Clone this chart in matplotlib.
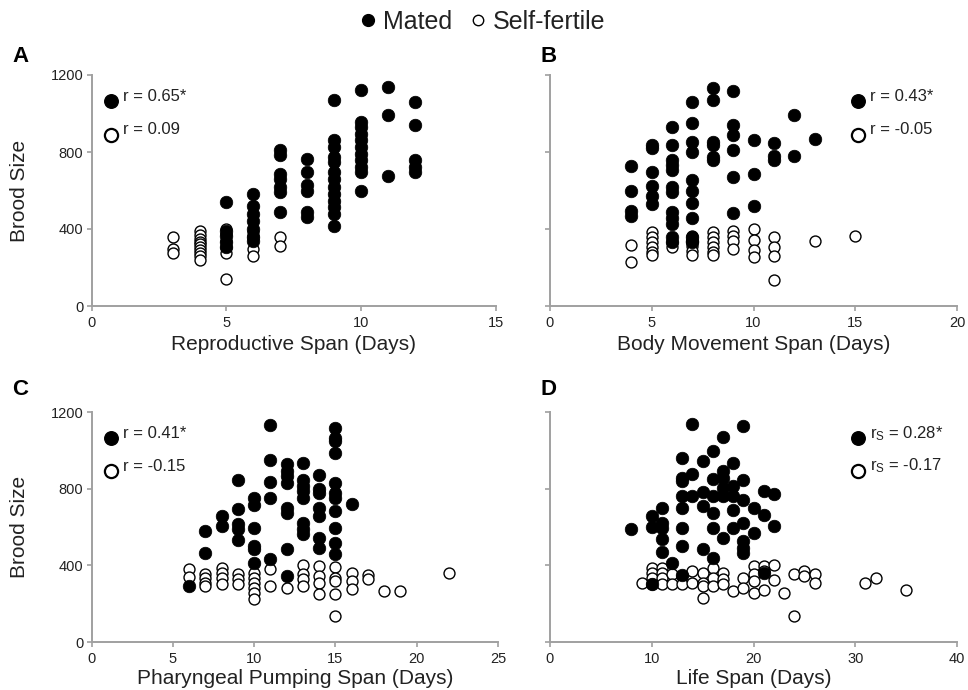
import matplotlib
matplotlib.use("Agg")
import matplotlib.pyplot as plt
from matplotlib.lines import Line2D

plt.rcParams['font.family'] = ['Liberation Sans', 'DejaVu Sans']
plt.rcParams['mathtext.fontset'] = 'custom'
plt.rcParams['mathtext.rm'] = 'Liberation Sans'
plt.rcParams['mathtext.it'] = 'Liberation Sans'

# ---------------- DATA ----------------
# Panel A: Reproductive span
a_mated_x = [5]*5 + [6]*7 + [7]*7 + [8]*6 + [9]*13 + [10]*11 + [11]*3 + [12]*5
a_mated_y = [539, 390, 365, 335, 305,
             583, 518, 478, 443, 400, 357, 339,
             812, 783, 687, 661, 617, 591, 487,
             762, 696, 626, 600, 487, 461,
             1070, 861, 826, 774, 748, 696, 661, 617, 583, 548, 513, 478, 417,
             1122, 957, 930, 896, 861, 826, 791, 757, 722, 696, 600,
             1136, 991, 673,
             1061, 939, 760, 722, 696]
a_self_x = [3]*3 + [4]*10 + [5]*6 + [6]*4 + [7]*2
a_self_y = [360, 296, 273,
            391, 370, 350, 335, 320, 305, 290, 275, 261, 240,
            400, 374, 339, 304, 273, 139,
            383, 365, 296, 261,
            360, 313]

# Panel B: Body movement span
b_mated_x = [4]*4 + [5]*6 + [6]*12 + [7]*11 + [8]*6 + [9]*6 + [10]*3 + [11]*3 + [12]*2 + [13]
b_mated_y = [725, 595, 496, 470,
             835, 820, 696, 621, 574, 530,
             930, 838, 757, 730, 704, 617, 591, 487, 455, 426, 357, 330,
             1061, 952, 852, 800, 657, 597, 536, 456, 357, 340, 330,
             1134, 1070, 852, 835, 774, 757,
             1118, 939, 887, 809, 670, 482,
             864, 687, 518,
             847, 779, 760,
             991, 779,
             870]
b_self_x = [4]*2 + [5]*6 + [6]*2 + [7]*5 + [8]*6 + [9]*4 + [10]*4 + [11]*4 + [13] + [15]
b_self_y = [317, 226,
            383, 357, 330, 304, 278, 264,
            330, 304,
            365, 339, 313, 287, 264,
            383, 357, 330, 304, 278, 264,
            391, 365, 339, 296,
            400, 344, 292, 252,
            357, 304, 261, 136,
            336,
            365]

# Panel C: Pharyngeal pumping span
c_mated_x = [6] + [7]*2 + [8]*2 + [9]*5 + [10]*6 + [11]*5 + [12]*8 + [13]*8 + [14]*7 + [15]*11 + [16]
c_mated_y = [292,
             579, 466,
             657, 605,
             845, 692, 614, 588, 530,
             750, 715, 593, 501, 483, 410,
             1132, 950, 837, 750, 431,
             927, 892, 866, 831, 701, 675, 483, 344,
             936, 845, 814, 788, 753, 623, 588, 562,
             871, 797, 779, 697, 657, 541, 492,
             1118, 1066, 1049, 984, 828, 779, 753, 683, 597, 515, 457,
             722]
c_self_x = ([6]*2 + [7]*4 + [8]*4 + [9]*3 + [10]*6 + [11]*2 + [12] + [13]*4 + [14]*4
            + [15]*5 + [16]*3 + [17]*2 + [18] + [19] + [22])
c_self_y = [383, 341,
            353, 336, 310, 292,
            388, 362, 336, 301,
            353, 327, 301,
            362, 336, 310, 283, 257, 223,
            383, 292,
            283,
            400, 353, 327, 292,
            397, 344, 310, 252,
            393, 336, 318, 249, 136,
            362, 318, 275,
            350, 327,
            266,
            266,
            362]

# Panel D: Life span
d_mated_x = ([8] + [10]*3 + [11]*5 + [12] + [13]*8 + [14]*3 + [15]*4 + [16]*6 + [17]*6
             + [18]*5 + [19]*7 + [20]*2 + [21]*3 + [22]*2)
d_mated_y = [588,
             657, 600, 301,
             701, 623, 597, 536, 471,
             414,
             958, 854, 840, 764, 701, 597, 501, 348,
             1139, 875, 760,
             944, 785, 707, 483,
             997, 850, 760, 675, 597, 440,
             1070, 892, 857, 805, 760, 545,
             936, 814, 760, 690, 597,
             1127, 847, 740, 623, 527, 492, 466,
             697, 567,
             786, 663, 362,
             774, 605]
d_self_x = ([9] + [10]*4 + [11]*4 + [12]*2 + [13]*2 + [14]*2 + [15]*4 + [16]*3 + [17]*3
            + [18] + [19]*2 + [20]*4 + [21]*3 + [22]*2 + [23] + [24]*2 + [25]*2 + [26]*2
            + [31] + [32] + [35])
d_self_y = [310,
            388, 362, 336, 301,
            388, 362, 336, 301,
            353, 301,
            344, 301,
            370, 310,
            362, 310, 292, 231,
            388, 336, 292,
            362, 327, 301,
            266,
            336, 283,
            397, 353, 318, 257,
            397, 370, 270,
            400, 322,
            257,
            357, 136,
            370, 344,
            353, 310,
            310,
            333,
            270]

x_labels = ["Reproductive Span (Days)", "Body Movement Span (Days)",
            "Pharyngeal Pumping Span (Days)", "Life Span (Days)"]
x_maxes = [15, 20, 25, 40]
x_steps = [5, 5, 5, 10]
y_ticks = [0, 400, 800, 1200]
panel_letters = ["A", "B", "C", "D"]
mated_r = ["r = 0.65*", "r = 0.43*", "r = 0.41*", r"r$_\mathrm{S}$ = 0.28*"]
self_r = ["r = 0.09", "r = -0.05", "r = -0.15", r"r$_\mathrm{S}$ = -0.17"]

# ---------------- FIGURE ----------------
W, H = 968, 690
fig = plt.figure(figsize=(W / 100, H / 100), dpi=100)

def px_axes(l, r, b, t):
    return fig.add_axes([l / W, 1 - b / H, (r - l) / W, (b - t) / H])

boxes = [(91.7, 496, 306, 75), (550, 957, 306, 75),
         (91.7, 498, 642, 412), (550, 957, 642, 412)]
data = [(a_mated_x, a_mated_y, a_self_x, a_self_y),
        (b_mated_x, b_mated_y, b_self_x, b_self_y),
        (c_mated_x, c_mated_y, c_self_x, c_self_y),
        (d_mated_x, d_mated_y, d_self_x, d_self_y)]

spine_col = '#a0a0a0'
txt_col = '#222222'

for i, (box, (mx, my, sx, sy)) in enumerate(zip(boxes, data)):
    ax = px_axes(*box)
    ax.scatter(sx, sy, s=62, facecolors='white', edgecolors='black', linewidths=1.0,
               zorder=2, clip_on=False)
    ax.scatter(mx, my, s=82, facecolors='black', edgecolors='black', linewidths=0.5,
               zorder=3, clip_on=False)
    ax.set_xlim(0, x_maxes[i])
    ax.set_ylim(0, 1200)
    ax.set_xticks(list(range(0, x_maxes[i] + 1, x_steps[i])))
    ax.set_yticks(y_ticks)
    for side in ['top', 'right']:
        ax.spines[side].set_visible(False)
    for side in ['left', 'bottom']:
        ax.spines[side].set_color(spine_col)
        ax.spines[side].set_linewidth(1.4)
    ax.tick_params(axis='both', colors=spine_col, width=1.2, length=3.5,
                   labelsize=10.5, labelcolor=txt_col, direction='out')
    ax.tick_params(axis='x', pad=4)
    ax.tick_params(axis='y', pad=2.5)
    if i in (1, 3):
        ax.set_yticklabels([])
    # x label
    off = 38 if i < 2 else 36
    ax.text(0.5, -off / (box[2] - box[3]), x_labels[i], transform=ax.transAxes,
            ha='center', va='center', fontsize=15, color=txt_col)
    # inner correlation legend
    mxp = 0.047 if i in (0, 2) else 0.757
    txp = mxp + 0.03
    ax.scatter([mxp], [0.888], s=95, facecolors='black', edgecolors='black',
               transform=ax.transAxes, clip_on=False, zorder=4)
    ax.scatter([mxp], [0.742], s=90, facecolors='white', edgecolors='black',
               linewidths=1.6, transform=ax.transAxes, clip_on=False, zorder=4)
    ax.text(txp, 0.905, mated_r[i], transform=ax.transAxes, ha='left', va='center',
            fontsize=12, color=txt_col)
    ax.text(txp, 0.765, self_r[i], transform=ax.transAxes, ha='left', va='center',
            fontsize=12, color=txt_col)

# y labels
for yc in [(75 + 306) / 2, (412 + 642) / 2]:
    fig.text(20 / W, 1 - yc / H, "Brood Size", rotation=90, ha='center', va='center',
             fontsize=15, color=txt_col)

# panel letters
for letter, (lx, ly) in zip(panel_letters, [(12, 57), (541, 57), (12, 390), (541, 390)]):
    fig.text(lx / W, 1 - ly / H, letter, fontsize=16, fontweight='bold',
             ha='left', va='center', color='black')

# top legend
handles = [Line2D([], [], marker='o', linestyle='none', markersize=8.5,
                  markerfacecolor='black', markeredgecolor='black'),
           Line2D([], [], marker='o', linestyle='none', markersize=7.5,
                  markerfacecolor='white', markeredgecolor='black', markeredgewidth=1.0)]
leg = fig.legend(handles, ["Mated", "Self-fertile"], loc='center',
                 bbox_to_anchor=(0.499, 1 - 22 / H), ncol=2, frameon=False,
                 fontsize=18, handlelength=0.6, handletextpad=0.3, columnspacing=0.7,
                 borderpad=0, borderaxespad=0)
for t in leg.get_texts():
    t.set_color(txt_col)

fig.savefig("out.png", dpi=100)
